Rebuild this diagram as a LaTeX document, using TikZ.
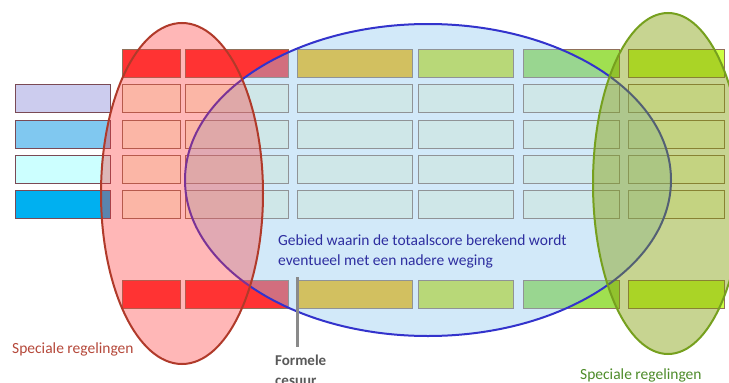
\documentclass[tikz,border=0pt]{standalone}
\usepackage{fontspec}
\setmainfont{Carlito}
\usetikzlibrary{shapes.geometric}
\definecolor{cellfill}{HTML}{FAFDE4}
\definecolor{cellline}{HTML}{90705A}
\definecolor{rowline}{HTML}{7A4A55}
\definecolor{redhead}{HTML}{FF3333}
\definecolor{mustard}{HTML}{FFBB00}
\definecolor{lightgreen}{HTML}{D3E328}
\definecolor{midgreen}{HTML}{A0E050}
\definecolor{lime}{HTML}{CCFF44}
\definecolor{lavender}{HTML}{CCCCEE}
\definecolor{skyblue}{HTML}{80C8F0}
\definecolor{paleblue}{HTML}{CCFFFF}
\definecolor{deepblue}{HTML}{00B0F0}
\definecolor{zoneblue}{HTML}{90C8F0}
\definecolor{zoneblueline}{HTML}{3333CC}
\definecolor{zonered}{HTML}{FF3333}
\definecolor{zoneredline}{HTML}{B03A2A}
\definecolor{zonegreen}{HTML}{7F9C00}
\definecolor{zonegreenline}{HTML}{76A01E}
\definecolor{textblue}{HTML}{2E2EA0}
\definecolor{textred}{HTML}{B5483A}
\definecolor{textgreen}{HTML}{4E8C2A}
\definecolor{textgrey}{HTML}{595959}
\definecolor{cutgrey}{HTML}{8A8A8A}
\tikzstyle{cell}=[rectangle,draw=cellline,line width=0.8pt,inner sep=0pt,outer sep=0pt,minimum height=28pt]
\tikzstyle{rowbox}=[cell,draw=rowline,minimum width=95pt]
\tikzstyle{zone}=[ellipse,inner sep=0pt,outer sep=0pt,line width=2pt]
\tikzstyle{remark}=[inner sep=0pt,font=\fontsize{15.5}{20}\selectfont]

\begin{document}
\begin{tikzpicture}[x=1pt,y=-1pt]
\useasboundingbox[fill=white] (0,0) rectangle (729,383);
% rijen links
\foreach \n/\y/\c in {1/98/lavender,2/134/skyblue,3/169/paleblue,4/204/deepblue}
  \node[rowbox,fill=\c] (r\n) at (62.5,\y) {};
% kolommen: kop, cellen, voet
\foreach \n/\l/\r/\c [evaluate=\l as \w using \r-\l, evaluate=\l as \m using (\l+\r)/2] in
  {1/122/180/redhead,2/185/288/redhead,3/297/412/mustard,
   4/418/513/lightgreen,5/523/619/midgreen,6/628/724/lime}
{
  \node[cell,fill=\c,minimum width=\w pt] (h\n) at (\m,63) {};
  \node[cell,fill=\c,minimum width=\w pt] (f\n) at (\m,294) {};
  \foreach \k/\y in {1/98,2/134,3/169,4/204}
    \node[cell,fill=cellfill,minimum width=\w pt] (c\n-\k) at (\m,\y) {};
}
% gebieden
\node[zone,draw=zoneblueline,fill=zoneblue,fill opacity=0.4,
  minimum width=486pt,minimum height=312pt] (gebied) at (428,180) {};
\node[zone,draw=zoneredline,fill=zonered,fill opacity=0.35,
  minimum width=162pt,minimum height=341pt] (links) at (182,193.5) {};
\node[zone,draw=zonegreenline,fill=zonegreen,fill opacity=0.43,
  minimum width=150pt,minimum height=341pt] (rechts) at (668,183.5) {};
% cesuur
\coordinate (cesA) at (297,277);
\coordinate (cesB) at (297,347);
\draw[cutgrey,line width=3pt] (cesA) -- (cesB);
\node[remark,text=textblue,align=left,anchor=north west] (uitleg) at (278,235)
  {Gebied waarin de totaalscore berekend wordt\\eventueel met een nadere weging};
\node[remark,text=textred,anchor=west] (specL) at (12,349) {Speciale regelingen};
\node[remark,text=textgreen,anchor=west] (specR) at (580,375) {Speciale regelingen};
\node[remark,text=textgrey,font=\bfseries\fontsize{15}{20}\selectfont,align=left,anchor=north west]
  (formeel) at (275,355) {Formele\\cesuur};
\end{tikzpicture}
\end{document}
